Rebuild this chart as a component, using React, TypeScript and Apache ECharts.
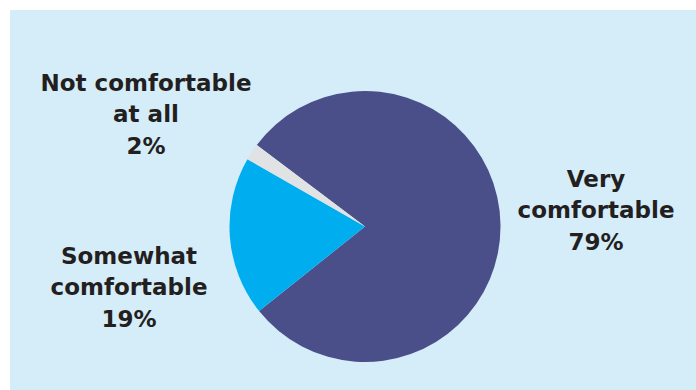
import React, { useEffect, useRef } from "react";
import * as echarts from "echarts";

const categories = ["Very\ncomfortable", "Somewhat\ncomfortable", "Not comfortable\nat all"];
const values = [79, 19, 2];
const colors = ["#4a4f8a", "#00aeef", "#e1e2e4"];

// label anchor points (layout only)
const labelAnchors = [
  [596, 210],
  [129, 287],
  [146, 114],
];

export default function App() {
  const ref = useRef<HTMLDivElement>(null);
  useEffect(() => {
    document.body.style.margin = "0";
    const chart = echarts.init(ref.current!, null, { renderer: "svg" });
    chart.setOption({
      animation: false,
      backgroundColor: "#ffffff",
      graphic: [
        {
          type: "rect",
          z: -10,
          shape: { x: 10, y: 10, width: 686, height: 380 },
          style: { fill: "#d5ecf9" },
          silent: true,
        },
      ],
      series: [
        {
          type: "pie",
          center: [365, 226.5],
          radius: [0, 135.5],
          startAngle: 143,
          clockwise: true,
          avoidLabelOverlap: false,
          label: {
            show: true,
            position: "outside",
            alignTo: "none",
            overflow: "none",
            width: 400,
            formatter: (p: any) => `${p.name}\n${p.value}%`,
            fontFamily: "DejaVu Sans",
            fontWeight: "bold",
            fontSize: 23,
            lineHeight: 31.5,
            color: "#231f20",
            align: "center",
          },
          labelLine: { show: false },
          labelLayout: (params: any) => {
            const a = labelAnchors[params.dataIndex];
            return { x: a[0], y: a[1], align: "center", verticalAlign: "middle" };
          },
          emphasis: { disabled: true },
          itemStyle: { borderWidth: 0 },
          data: categories.map((c, i) => ({
            name: c,
            value: values[i],
            itemStyle: { color: colors[i] },
          })),
        },
      ],
    });
    return () => chart.dispose();
  }, []);
  return <div ref={ref} style={{ width: 696, height: 390 }} />;
}
